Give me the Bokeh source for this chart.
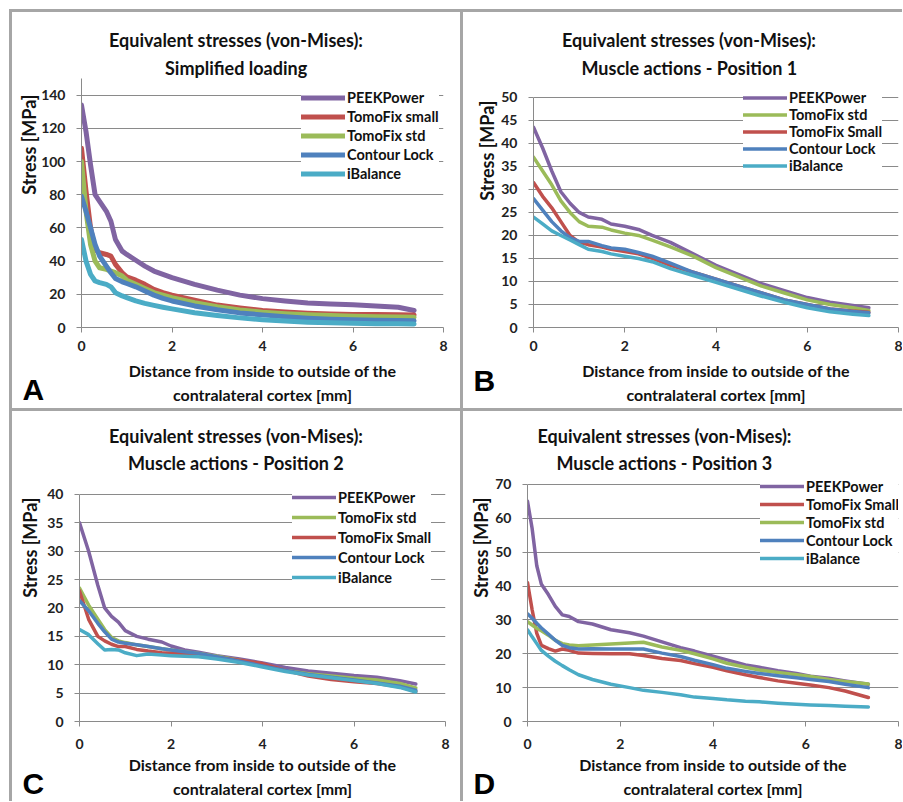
from bokeh.plotting import figure
from bokeh.models import Legend, LegendItem, Title, FixedTicker, Range1d
from bokeh.layouts import column, row
from bokeh.embed import file_html
from bokeh.resources import INLINE

# ---------------- data ----------------
A_x = [0, 0.1, 0.2, 0.3, 0.4, 0.55, 0.65, 0.75, 0.9, 1.0, 1.2, 1.4, 1.6, 1.8, 2.0, 2.5, 3.0, 3.5, 4.0, 4.5, 5.0, 5.5, 6.0, 6.5, 7.0, 7.35]
A_peek = [134, 118, 98, 80, 76, 70, 64, 53, 46, 44, 40.5, 37, 34, 32, 30, 26, 22.5, 19.5, 17.4, 16, 14.8, 14.2, 13.7, 13, 12.2, 10.2]
A_tomo_small = [108, 82, 60, 47, 45, 44, 43, 38, 33, 30.5, 28.5, 26, 23, 21, 19.5, 16.5, 13.5, 11.8, 10.3, 9.3, 8.6, 8.2, 7.9, 7.8, 7.7, 7.6]
A_tomo_std = [100, 70, 50, 40, 36, 35, 34, 33, 31, 28.5, 26, 23.5, 21, 19.5, 18, 15, 12.5, 10.6, 9.2, 8.3, 7.7, 7.2, 6.8, 6.5, 6.3, 6.2]
A_contour = [79, 70, 60, 50, 43, 37, 33, 29.5, 27.5, 26.5, 24.5, 22, 19.5, 17.5, 16, 13, 10.7, 8.8, 7.6, 6.5, 5.6, 5, 4.6, 4.3, 4.2, 4.1]
A_ibalance = [53, 40, 32, 28, 27, 26, 24.5, 21, 19, 18, 16, 14.5, 13.3, 12.2, 11.2, 8.9, 7.2, 5.8, 4.7, 3.9, 3.2, 2.8, 2.5, 2.3, 2.2, 2.1]

B_x = [0, 0.2, 0.4, 0.6, 0.8, 1.0, 1.2, 1.5, 1.7, 2.0, 2.3, 2.6, 3.0, 3.5, 4.0, 4.5, 5.0, 5.5, 6.0, 6.5, 7.0, 7.35]
B_peek = [43.5, 39, 34, 29.5, 27, 25, 24, 23.5, 22.5, 22, 21.3, 20, 18.5, 16, 13.5, 11.5, 9.5, 8, 6.5, 5.5, 4.8, 4.3]
B_tomo_std = [37, 34, 31, 27.5, 25, 23, 22, 21.8, 21.2, 20.5, 20, 19, 17.5, 15.5, 13, 11, 9, 7.5, 6, 5, 4.3, 3.7]
B_tomo_small = [31.5, 28.5, 26, 23, 20, 18.5, 18, 17.5, 17, 16.5, 16, 15, 13.5, 12, 10.5, 9, 7.5, 6, 5, 4, 3.6, 3.3]
B_contour = [28, 25.5, 23, 21, 19.5, 18.7, 18.7, 17.8, 17.3, 17, 16.3, 15.5, 14, 12, 10.5, 9, 7.5, 6, 5, 4, 3.5, 3.2]
B_ibalance = [24, 22.5, 21, 20, 19, 18, 17, 16.5, 16, 15.5, 15, 14.3, 12.8, 11.3, 9.8, 8.3, 6.8, 5.5, 4.3, 3.4, 2.9, 2.6]

C_x = [0, 0.2, 0.4, 0.55, 0.7, 0.85, 1.0, 1.25, 1.5, 1.8, 2.0, 2.3, 2.6, 3.0, 3.5, 4.0, 4.5, 5.0, 5.5, 6.0, 6.5, 7.0, 7.35]
C_peek = [35, 30, 24, 20, 18.5, 17.5, 16, 15, 14.5, 14, 13.3, 12.6, 12.2, 11.6, 11, 10.3, 9.5, 8.9, 8.5, 8.1, 7.8, 7.2, 6.6]
C_tomo_std = [23.5, 20.5, 18, 16.2, 14.8, 14.2, 13.9, 13.5, 13.2, 12.8, 12.6, 12.3, 12, 11.5, 10.8, 10, 9, 8.4, 8, 7.6, 7.3, 6.7, 5.9]
C_tomo_small = [23, 18, 15, 14.2, 13.6, 13.2, 13.2, 12.7, 12.4, 12.1, 12, 11.9, 11.8, 11.3, 10.8, 10.2, 9, 8, 7.4, 7, 6.7, 6.1, 5.3]
C_contour = [21.3, 19.5, 17.3, 15.8, 14.5, 14, 13.8, 13.5, 13.2, 12.8, 12.6, 12.3, 12, 11.4, 10.6, 9.8, 9, 8.3, 7.8, 7.3, 6.8, 6.2, 5.5]
C_ibalance = [16.2, 15.3, 13.7, 12.6, 12.7, 12.6, 12.1, 11.6, 11.9, 11.7, 11.6, 11.5, 11.4, 11, 10.4, 9.6, 8.8, 8.2, 7.7, 7.2, 6.7, 6, 5.2]

D_x = [0, 0.1, 0.2, 0.3, 0.45, 0.6, 0.75, 0.9, 1.1, 1.4, 1.8, 2.2, 2.5, 2.9, 3.3, 3.6, 4.0, 4.3, 4.7, 5.0, 5.4, 5.8, 6.1, 6.5, 6.85, 7.35]
D_peek = [65, 57, 46, 40.5, 37.5, 34, 31.5, 31, 29.5, 28.8, 27.1, 26.2, 25.2, 23.5, 21.8, 20.8, 19.3, 18.2, 16.7, 16, 15, 14.2, 13.4, 12.8, 12, 11]
D_tomo_small = [41, 33, 26, 22.5, 21.5, 20.8, 21.4, 21, 20.2, 20.1, 20, 20, 19.5, 18.6, 18, 17.1, 16, 15, 13.8, 13, 12, 11.3, 10.8, 10, 9, 7.1]
D_tomo_std = [29.5, 28.5, 27.5, 26.8, 25.5, 24, 23, 22.6, 22.4, 22.6, 22.9, 23.2, 23.4, 22, 21, 20, 18.5, 17.2, 16, 15.2, 14.5, 13.8, 13.3, 12.4, 11.8, 11.1]
D_contour = [31.8, 30.5, 29, 27.6, 25.8, 24, 22.5, 21.8, 21.4, 21.5, 21.4, 21.4, 21.4, 20.2, 19.2, 18.1, 16.8, 15.7, 14.8, 14.2, 13.5, 12.9, 12.4, 11.8, 11, 10]
D_ibalance = [27.1, 25, 23, 21, 19.3, 17.8, 16.5, 15.3, 13.8, 12.4, 11, 10, 9.2, 8.6, 7.9, 7.2, 6.8, 6.4, 6, 5.8, 5.4, 5.1, 4.9, 4.7, 4.5, 4.3]

title_line1 = "Equivalent stresses (von-Mises):"
A_title2 = "Simplified loading"
B_title2 = "Muscle actions - Position 1"
C_title2 = "Muscle actions - Position 2"
D_title2 = "Muscle actions - Position 3"
x_label = "Distance from inside to outside of the\ncontralateral cortex [mm]"
y_label = "Stress [MPa]"
x_ticks = [0, 2, 4, 6, 8]
A_yticks = [0, 20, 40, 60, 80, 100, 120, 140]
B_yticks = [0, 5, 10, 15, 20, 25, 30, 35, 40, 45, 50]
C_yticks = [0, 5, 10, 15, 20, 25, 30, 35, 40]
D_yticks = [0, 10, 20, 30, 40, 50, 60, 70]

A_names = ["PEEKPower", "TomoFix small", "TomoFix std", "Contour Lock", "iBalance"]
B_names = ["PEEKPower", "TomoFix std", "TomoFix Small", "Contour Lock", "iBalance"]
C_names = ["PEEKPower", "TomoFix std", "TomoFix Small", "Contour Lock", "iBalance"]
D_names = ["PEEKPower", "TomoFix Small", "TomoFix std", "Contour Lock", "iBalance"]

PURPLE, RED, GREEN, BLUE, CYAN = "#8064A2", "#C0504D", "#9BBB59", "#4F81BD", "#4BACC6"

FONT = "Lato"
GRID = "#8a8a8a"
BORDER = "#a6a6a6"


def panel(w, h, ml, mr, mt, mb, ymax, axis_top, yticks, x, series, names, colors, lw,
          title2, letter, t1_off, t2_off, t1_so, t2_so, let_off, let_so,
          leg_loc, row_h, xstand, xlab_stand, ylab_off, ylab_so):
    p = figure(width=w, height=h, x_range=Range1d(0, 8), y_range=Range1d(0, ymax),
               output_backend="svg", toolbar_location=None,
               min_border_left=ml, min_border_right=mr, min_border_top=mt, min_border_bottom=mb)
    p.outline_line_color = None
    p.background_fill_color = "white"
    p.border_fill_color = "white"
    p.xgrid.visible = False
    p.ygrid.grid_line_color = GRID
    p.ygrid.grid_line_width = 1
    p.ygrid.ticker = FixedTicker(ticks=yticks)
    p.xaxis.ticker = FixedTicker(ticks=x_ticks)
    p.yaxis.ticker = FixedTicker(ticks=yticks)
    p.yaxis.bounds = (0, axis_top)
    for ax in (p.xaxis[0], p.yaxis[0]):
        ax.axis_line_color = GRID
        ax.major_tick_line_color = GRID
        ax.major_tick_out = 5
        ax.major_tick_in = 0
        ax.minor_tick_line_color = None
        ax.major_label_text_font = FONT
        ax.major_label_text_font_style = "bold"
        ax.major_label_text_font_size = "14px"
        ax.major_label_text_color = "#222222"
    p.xaxis.major_label_standoff = xstand
    p.yaxis.major_label_standoff = 11
    p.xaxis.axis_label = x_label
    p.xaxis.axis_label_text_font = FONT
    p.xaxis.axis_label_text_font_style = "bold"
    p.xaxis.axis_label_text_color = "#111111"
    p.xaxis.axis_label_text_font_size = "16px"
    p.xaxis.axis_label_text_line_height = 1.3
    p.xaxis.axis_label_standoff = xlab_stand

    items = []
    for ys, nm, c in zip(series, names, colors):
        r = p.line(x, ys, line_color=c, line_width=lw, line_join="round", line_cap="round")
        items.append(LegendItem(label=nm, renderers=[r]))
    leg = Legend(items=items, location=leg_loc, orientation="vertical",
                 glyph_width=44, glyph_height=row_h, label_height=row_h,
                 label_standoff=2, spacing=0, padding=6, margin=0,
                 background_fill_color="white", background_fill_alpha=1.0,
                 border_line_color=None,
                 label_text_font=FONT, label_text_font_style="bold",
                 label_text_font_size="14.5px", label_text_color="#111111")
    p.add_layout(leg)

    # y-axis title, placed in the left panel beyond the tick labels
    p.add_layout(Title(text=y_label, align="right", offset=ylab_off, standoff=ylab_so,
                       vertical_align="middle", text_font=FONT, text_font_style="bold",
                       text_font_size="18px", text_color="#111111"), "left")
    # two title lines: the one added first sits nearest the frame
    p.add_layout(Title(text=title2, align="left", offset=t2_off, standoff=t2_so,
                       vertical_align="middle", text_font=FONT, text_font_style="bold",
                       text_font_size="18px", text_color="#111111"), "above")
    p.add_layout(Title(text=title_line1, align="left", offset=t1_off, standoff=t1_so,
                       vertical_align="middle", text_font=FONT, text_font_style="bold",
                       text_font_size="18px", text_color="#111111"), "above")
    # panel letter
    p.add_layout(Title(text=letter, align="left", offset=let_off, standoff=let_so,
                       vertical_align="top", text_font="Liberation Sans",
                       text_font_style="bold", text_font_size="30px",
                       text_color="black"), "below")
    p.styles = {"box-shadow": f"-3px 0 0 0 {BORDER}, 0 -3px 0 0 {BORDER}, -3px -3px 0 0 {BORDER}"}
    return p


pA = panel(448, 396, 69, 17, 66, 81, 150, 150, A_yticks,
           A_x, [A_peek, A_tomo_small, A_tomo_std, A_contour, A_ibalance], A_names,
           [PURPLE, RED, GREEN, BLUE, CYAN], 5,
           A_title2, "A", 27.5, 83.5, 10, -2, -59, -70, (220, 144), 19, 8, 7, 16, -5)
pB = panel(439, 396, 70, 4, 66, 81, 54.1, 50, B_yticks,
           B_x, [B_peek, B_tomo_std, B_tomo_small, B_contour, B_ibalance], B_names,
           [PURPLE, GREEN, RED, BLUE, CYAN], 3.5,
           B_title2, "B", 28.5, 48, 10, -2, -60, -88, (210, 153), 17, 8, 7, 22, 0)
pC = panel(448, 390, 67, 15, 67, 78, 42.8, 40, C_yticks,
           C_x, [C_peek, C_tomo_std, C_tomo_small, C_contour, C_ibalance], C_names,
           [PURPLE, GREEN, RED, BLUE, CYAN], 3.5,
           C_title2, "C", 29.5, 48.5, -2, 8, -57, -70, (213, 134), 20, 12, 3, 19, 6)
pD = panel(439, 390, 64, 4, 67, 78, 71.76, 70, D_yticks,
           D_x, [D_peek, D_tomo_small, D_tomo_std, D_contour, D_ibalance], D_names,
           [PURPLE, RED, GREEN, BLUE, CYAN], 3.5,
           D_title2, "D", 10, 29, -2, 8, -54, -70, (233, 154), 18, 12, 3, 19, 0)

layout = column(row(pA, pB, spacing=3), row(pC, pD, spacing=3), spacing=3, margin=(12, 0, 0, 12))
open("out.html", "w").write(file_html(layout, INLINE))
